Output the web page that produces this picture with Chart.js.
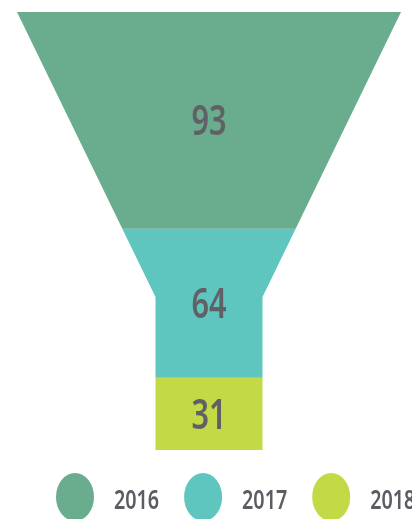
<!DOCTYPE html>
<html>
<head>
<meta charset="utf-8">
<script src="https://cdn.jsdelivr.net/npm/chart.js@4.4.1/dist/chart.umd.min.js"></script>
<style>
  html, body { margin: 0; padding: 0; overflow: hidden; background: #fff; }
  canvas { display: block; }
</style>
</head>
<body>
<canvas id="funnel" width="412" height="519"></canvas>
<script>
const years = ["2016", "2017", "2018"];
const values = [93, 64, 31];
const colors = ["#69ad8e", "#5ec5bf", "#c4d946"];

const fontFamily = "'Noto Sans', 'Open Sans', sans-serif";
const textColor = "#606066";
const squeeze = 0.73; // the original type is a condensed face

// funnel outline: half widths in x units, neck position in value units
const topHalf = 192;
const neckHalf = 53.5;
const neckAt = 122.3;

function halfWidth(v) {
  if (v >= neckAt) return neckHalf;
  return topHalf - (topHalf - neckHalf) * v / neckAt;
}

// one closed outline per stage, stacked by value
const datasets = [];
let start = 0;
values.forEach((val, i) => {
  const end = start + val;
  const pts = [
    { x: -halfWidth(start), y: start },
    { x: halfWidth(start), y: start }
  ];
  const neck = start < neckAt && end > neckAt;
  if (neck) pts.push({ x: neckHalf, y: neckAt });
  pts.push({ x: halfWidth(end), y: end });
  pts.push({ x: -halfWidth(end), y: end });
  if (neck) pts.push({ x: -neckHalf, y: neckAt });
  datasets.push({
    label: years[i],
    data: pts,
    showLine: true,
    fill: "shape",
    backgroundColor: colors[i],
    borderColor: "transparent",
    borderWidth: 0,
    pointRadius: 0,
    pointHoverRadius: 0,
    tension: 0,
    mid: start + val / 2,
    value: val
  });
  start = end;
});

function squeezedText(ctx, text, x, y) {
  ctx.save();
  ctx.translate(x, y);
  ctx.scale(squeeze, 1);
  ctx.fillText(text, 0, 0);
  ctx.restore();
}

const valueLabels = {
  id: "valueLabels",
  afterDatasetsDraw(chart) {
    const ctx = chart.ctx;
    const xs = chart.scales.x;
    const ys = chart.scales.y;
    ctx.save();
    ctx.font = "600 42px " + fontFamily;
    ctx.fillStyle = textColor;
    ctx.textAlign = "center";
    ctx.textBaseline = "alphabetic";
    chart.data.datasets.forEach(ds => {
      squeezedText(ctx, String(ds.value), xs.getPixelForValue(0), ys.getPixelForValue(ds.mid) + 15);
    });
    ctx.restore();
  }
};

// legend: tall ovals followed by the year
const ovalLegend = {
  id: "ovalLegend",
  afterDraw(chart) {
    const ctx = chart.ctx;
    const cy = chart.chartArea.bottom + 26;
    let x = 56;
    ctx.save();
    ctx.font = "600 27px " + fontFamily;
    ctx.textAlign = "left";
    ctx.textBaseline = "alphabetic";
    years.forEach((y, i) => {
      ctx.fillStyle = colors[i];
      ctx.beginPath();
      ctx.ellipse(x + 19, cy, 19, 24, 0, 0, Math.PI * 2);
      ctx.fill();
      x += 38 + 20;
      ctx.fillStyle = "#5c5c62";
      squeezedText(ctx, y, x, cy + 12);
      x += ctx.measureText(y).width * squeeze + 25;
    });
    ctx.restore();
  }
};

new Chart(document.getElementById("funnel"), {
  type: "scatter",
  data: { datasets: datasets },
  options: {
    responsive: false,
    animation: false,
    layout: { padding: { bottom: 48 } },
    scales: {
      x: { type: "linear", min: -209, max: 203, display: false },
      y: { type: "linear", reverse: true, min: -5.15, max: 197.0, display: false }
    },
    plugins: {
      tooltip: { enabled: false },
      legend: { display: false }
    }
  },
  plugins: [valueLabels, ovalLegend]
});
</script>
</body>
</html>
